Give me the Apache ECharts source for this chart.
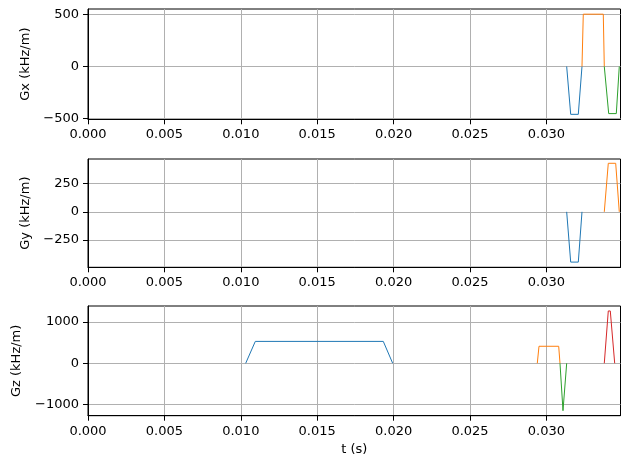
<!DOCTYPE html>
<html><head><meta charset="utf-8">
<script src="https://cdn.jsdelivr.net/npm/echarts@6/dist/echarts.min.js"></script>
<style>html,body{margin:0;padding:0;background:#fff}#c{width:630px;height:469px}</style>
</head><body><div id="c"></div>
<script>
// tick labels
const xTicks = [0, 0.005, 0.010, 0.015, 0.020, 0.025, 0.030];
const gxTicks = [-500, 0, 500];
const gyTicks = [-250, 0, 250];
const gzTicks = [-1000, 0, 1000];
const xRange = [0, 0.03485];
const gxRange = [-510, 555];
const gyRange = [-491, 468];
const gzRange = [-1269, 1387];

// Gx waveforms [t (s), kHz/m]
const gxBlue = [[0.031328, 0], [0.031590, -462], [0.032088, -462], [0.032330, 0]];
const gxOrange = [[0.032330, 0], [0.032415, 505], [0.033724, 505], [0.033789, 0]];
const gxGreen = [[0.033789, 0], [0.034077, -455], [0.034575, -455], [0.034771, 0]];
// Gy waveforms
const gyBlue = [[0.031328, 0], [0.031590, -445], [0.032088, -445], [0.032330, 0]];
const gyOrange = [[0.033789, 0], [0.034051, 430], [0.034536, 430], [0.034771, 0]];
// Gz waveforms
const gzBlue = [[0.010321, 0], [0.010949, 530], [0.019326, 530], [0.019941, 0]];
const gzOrange = [[0.029404, 0], [0.029516, 412], [0.030805, 412], [0.030890, 0]];
const gzGreen = [[0.030890, 0], [0.031086, -1148], [0.031328, 0]];
const gzRed = [[0.033789, 0], [0.034051, 1267], [0.034182, 1267], [0.034470, 0]];

const colors = ['#1f77b4', '#ff7f0e', '#2ca02c', '#d62728'];
const FONT = 'DejaVu Sans';
const fmtNum = v => (v < 0 ? '\u2212' + Math.abs(v) : String(v));

const grids = [
  {left: 88, right: 9.5, top: 9, height: 110.3},
  {left: 88, right: 9.5, top: 159, height: 108.3},
  {left: 88, right: 9.5, top: 306, height: 109.7}
].map(g => Object.assign(g, {show: true, borderColor: '#000', borderWidth: 1, backgroundColor: 'transparent'}));

function xAxisFor(i, withName) {
  return {
    type: 'value', gridIndex: i, min: xRange[0], max: xRange[1],
    name: withName ? 't (s)' : '', nameLocation: 'middle', nameGap: 27,
    nameTextStyle: {fontFamily: FONT, fontSize: 13, color: '#000'},
    axisLine: {show: true, onZero: false, lineStyle: {color: '#000', width: 1}},
    axisTick: {show: true, inside: false, length: 5, lineStyle: {color: '#000'}, customValues: xTicks},
    axisLabel: {margin: 9, fontFamily: FONT, fontSize: 13, color: '#000', customValues: xTicks,
      formatter: v => v.toFixed(3)},
    splitLine: {show: true, lineStyle: {color: '#b0b0b0', width: 1}}
  };
}
function yAxisFor(i, name, range, ticks, gap) {
  return {
    type: 'value', gridIndex: i, min: range[0], max: range[1],
    name: name, nameLocation: 'middle', nameGap: gap,
    nameTextStyle: {fontFamily: FONT, fontSize: 13, color: '#000'},
    axisLine: {show: true, onZero: false, lineStyle: {color: '#000', width: 1}},
    axisTick: {show: true, inside: false, length: 5, lineStyle: {color: '#000'}, customValues: ticks},
    axisLabel: {margin: 9, fontFamily: FONT, fontSize: 13, color: '#000', customValues: ticks,
      formatter: fmtNum},
    splitLine: {show: true, lineStyle: {color: '#b0b0b0', width: 1}}
  };
}
function line(data, ci, gi) {
  return {type: 'line', data: data, xAxisIndex: gi, yAxisIndex: gi, symbol: 'none',
    lineStyle: {color: colors[ci], width: 1}, itemStyle: {color: colors[ci]},
    animation: false, z: 3, clip: true};
}

const chart = echarts.init(document.getElementById('c'), null, {renderer: 'canvas'});
chart.setOption({
  backgroundColor: '#fff',
  animation: false,
  grid: grids,
  xAxis: [xAxisFor(0, false), xAxisFor(1, false), xAxisFor(2, true)],
  yAxis: [
    yAxisFor(0, 'Gx (kHz/m)', gxRange, gxTicks, 56),
    yAxisFor(1, 'Gy (kHz/m)', gyRange, gyTicks, 56),
    yAxisFor(2, 'Gz (kHz/m)', gzRange, gzTicks, 65)
  ],
  series: [
    line(gxBlue, 0, 0), line(gxOrange, 1, 0), line(gxGreen, 2, 0),
    line(gyBlue, 0, 1), line(gyOrange, 1, 1),
    line(gzBlue, 0, 2), line(gzOrange, 1, 2), line(gzGreen, 2, 2), line(gzRed, 3, 2)
  ]
});
</script></body></html>
